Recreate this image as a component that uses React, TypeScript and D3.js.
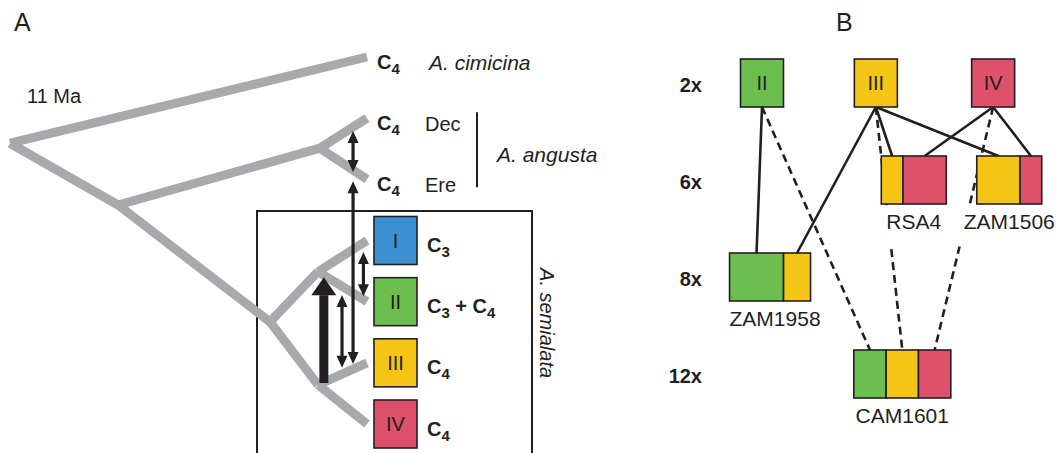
import * as d3 from "d3";

const W = 1059;
const H = 453;
const FONT = "'Liberation Sans', Arial, Helvetica, sans-serif";
const INK = "#231f20";
const BRANCH = "#a7a9ac";

// ---------- Panel A: phylogeny ----------
const TIP_IDS = ["cimicina", "Dec", "Ere", "I", "II", "III", "IV"];
const TIP_PATHWAY: string[][] = [["4"], ["4"], ["4"], ["3"], ["3", "4"], ["4"], ["4"]];
const TIP_NOTE = ["A. cimicina", "Dec", "Ere", "", "", "", ""];
const TIP_NOTE_ITALIC = [true, false, false, false, false, false, false];
const CLADES = ["I", "II", "III", "IV"];

const NODE_IDS = ["root", "angSem", "angusta", "semialata", "cladeI_II", "cladeIII_IV"];
const NODE_AGE = [11, 7.67, 1.45, 2.99, 1.51, 1.51]; // Ma
const NODE_ROW = [1.41, 2.42, 1.49, 4.33, 3.51, 5.36]; // in tip rows

const EDGE_PARENT = ["root", "root", "angSem", "angusta", "angusta", "angSem", "semialata", "cladeI_II", "cladeI_II", "semialata", "cladeIII_IV", "cladeIII_IV"];
const EDGE_CHILD = ["cimicina", "angSem", "angusta", "Dec", "Ere", "semialata", "cladeI_II", "I", "II", "cladeIII_IV", "III", "IV"];

// gene flow arrows (age where drawn, from/to in tip rows)
const FLOW_AGE = [0.43, 0.43, 0.11, 0.77, 1.33];
const FLOW_FROM = [1.21, 2.03, 3.19, 3.89, 5.33];
const FLOW_TO = [1.88, 5.02, 3.91, 5.08, 3.6];
const FLOW_MAJOR = [false, false, false, false, true];

// ---------- Panel B: polyploids ----------
const PLOIDY_LEVELS = ["2x", "6x", "8x", "12x"];
const ACCESSIONS = ["II", "III", "IV", "RSA4", "ZAM1506", "ZAM1958", "CAM1601"];
const ACC_PLOIDY = ["2x", "2x", "2x", "6x", "6x", "8x", "12x"];
const ACC_GENOMES: string[][] = [["II"], ["III"], ["IV"], ["III", "IV", "IV"], ["III", "III", "IV"], ["II", "II", "III"], ["II", "III", "IV"]];
const ACC_COLUMN = [0, 0.99, 2.01, 1.32, 2.15, 0.07, 1.22];

const LINK_FROM = ["II", "III", "III", "III", "IV", "IV", "II", "III", "IV"];
const LINK_TO = ["ZAM1958", "ZAM1958", "RSA4", "ZAM1506", "RSA4", "ZAM1506", "CAM1601", "CAM1601", "CAM1601"];
const LINK_DASHED = [false, false, false, false, false, false, true, true, true];

const cladeColor = d3.scaleOrdinal<string, string>().domain(CLADES).range(["#3c8fd1", "#6cbe4f", "#f5c515", "#df506b"]);

function PathwayLabel({ x, y, subs }: { x: number; y: number; subs: string[] }) {
  return (
    <text x={x} y={y} fontFamily={FONT} fontWeight="bold" fontSize={20} fill={INK}>
      C<tspan fontSize={15} dy={5}>{subs[0]}</tspan>
      {subs.length > 1 && (
        <>
          <tspan dy={-5}> + C</tspan>
          <tspan fontSize={15} dy={5}>{subs[1]}</tspan>
        </>
      )}
    </text>
  );
}

function arrowHead(x: number, tipY: number, dir: number, len: number, half: number) {
  const base = tipY + dir * len;
  return `M${x},${tipY}L${x - half},${base}L${x + half},${base}Z`;
}

export default function App() {
  // tree scales
  const ageX = d3.scaleLinear().domain([11, 0]).range([10, 367]);
  const rowY = d3.scaleLinear().domain([0, TIP_IDS.length - 1]).range([57, 424]);

  const pos = new Map<string, [number, number]>();
  TIP_IDS.forEach((id, i) => pos.set(id, [ageX(0), rowY(i)]));
  NODE_IDS.forEach((id, i) => pos.set(id, [ageX(NODE_AGE[i]), rowY(NODE_ROW[i])]));

  // panel B scales
  const ploidyY = d3.scalePoint<string>().domain(PLOIDY_LEVELS).range([83, 374]);
  const colX = d3.scaleLinear().domain([0, 1]).range([762, 877]);
  const boxW = d3.scaleOrdinal<string, number>().domain(PLOIDY_LEVELS).range([43, 65, 81, 97]);
  const boxH = 48;

  const acc = ACCESSIONS.map((name, i) => {
    const w = boxW(ACC_PLOIDY[i]);
    const cx = colX(ACC_COLUMN[i]);
    const top = (ploidyY(ACC_PLOIDY[i]) as number) - boxH / 2;
    const unit = w / ACC_GENOMES[i].length;
    const blocks: { g: string; x: number; w: number }[] = [];
    ACC_GENOMES[i].forEach((g, k) => {
      const last = blocks[blocks.length - 1];
      if (last && last.g === g) last.w += unit;
      else blocks.push({ g, x: cx - w / 2 + k * unit, w: unit });
    });
    return { name, cx, w, top, blocks, diploid: ACC_PLOIDY[i] === "2x" };
  });
  const accBy = new Map(acc.map((a) => [a.name, a]));

  const links = LINK_FROM.map((f, i) => {
    const p = accBy.get(f)!;
    const c = accBy.get(LINK_TO[i])!;
    const b = c.blocks.find((bl) => bl.g === f)!;
    return { x1: p.cx, y1: p.top + boxH, x2: b.x + b.w / 2, y2: c.top, dashed: LINK_DASHED[i] };
  });

  const boxTop = rowY(3) - 29.5;

  return (
    <svg width={W} height={H} style={{ position: "absolute", left: 0, top: 0, background: "#fff" }}>
      {/* Panel A */}
      <text x={14} y={31} fontFamily={FONT} fontSize={25} fill={INK}>A</text>
      <text x={27} y={103} fontFamily={FONT} fontSize={20} fill={INK}>11 Ma</text>

      {/* A. semialata frame */}
      <rect x={257} y={boxTop} width={275} height={H - boxTop + 20} fill="none" stroke={INK} strokeWidth={2} />

      {EDGE_PARENT.map((p, i) => {
        const [x1, y1] = pos.get(p)!;
        const [x2, y2] = pos.get(EDGE_CHILD[i])!;
        return <line key={i} x1={x1} y1={y1} x2={x2} y2={y2} stroke={BRANCH} strokeWidth={9} strokeLinecap="butt" />;
      })}

      {FLOW_AGE.map((a, i) => {
        const x = ageX(a);
        const y1 = rowY(FLOW_FROM[i]);
        const y2 = rowY(FLOW_TO[i]);
        const dir = y2 < y1 ? 1 : -1; // points back from the head at y2
        if (FLOW_MAJOR[i]) {
          const len = 18;
          return (
            <g key={i}>
              <rect x={x - 4.5} y={Math.min(y1, y2 + dir * len)} width={9} height={Math.abs(y1 - (y2 + dir * len))} fill={INK} />
              <path d={arrowHead(x, y2, dir, len, 12.5)} fill={INK} />
            </g>
          );
        }
        const len = 12;
        return (
          <g key={i}>
            <line x1={x} y1={y1 - dir * len + dir * 1} x2={x} y2={y2 + dir * len - dir * 1} stroke={INK} strokeWidth={3.2} />
            <path d={arrowHead(x, y2, dir, len, 5.5)} fill={INK} />
            <path d={arrowHead(x, y1, -dir, len, 5.5)} fill={INK} />
          </g>
        );
      })}

      {TIP_IDS.map((id, i) => {
        const [tx, ty] = pos.get(id)!;
        const isClade = CLADES.includes(id);
        return (
          <g key={id}>
            {isClade && (
              <g>
                <rect x={tx + 7} y={ty - boxH / 2} width={43} height={boxH} fill={cladeColor(id)} stroke={INK} strokeWidth={1.6} />
                <text x={tx + 28.5} y={ty + 7} textAnchor="middle" fontFamily={FONT} fontSize={20} fill={INK}>{id}</text>
              </g>
            )}
            <PathwayLabel x={isClade ? tx + 60 : tx + 10} y={ty + 11.5} subs={TIP_PATHWAY[i]} />
            {TIP_NOTE[i] && (
              <text x={TIP_NOTE_ITALIC[i] ? tx + 62 : tx + 58} y={ty + 13} fontFamily={FONT} fontSize={TIP_NOTE_ITALIC[i] ? 21 : 20}
                fontStyle={TIP_NOTE_ITALIC[i] ? "italic" : "normal"} fill={INK}>{TIP_NOTE[i]}</text>
            )}
          </g>
        );
      })}

      {/* A. angusta bracket */}
      <line x1={477} x2={477} y1={rowY(1) - 6} y2={rowY(2) + 8} stroke={INK} strokeWidth={2} />
      <text x={497} y={(rowY(1) + rowY(2)) / 2 + 13} fontFamily={FONT} fontSize={21} fontStyle="italic" fill={INK}>A. angusta</text>
      <text transform={`translate(540,${rowY(4.35)}) rotate(90)`} textAnchor="middle" fontFamily={FONT} fontSize={20} fontStyle="italic" fill={INK}>
        A. semialata
      </text>

      {/* Panel B */}
      <text x={836} y={31} fontFamily={FONT} fontSize={25} fill={INK}>B</text>
      {PLOIDY_LEVELS.map((p) => (
        <text key={p} x={702} y={(ploidyY(p) as number) + 9} textAnchor="end" fontFamily={FONT} fontWeight="bold" fontSize={20} fill={INK}>{p}</text>
      ))}

      {links.filter((l) => l.dashed).map((l, i) => (
        <line key={`d${i}`} x1={l.x1} y1={l.y1} x2={l.x2} y2={l.y2} stroke={INK} strokeWidth={2.6} strokeDasharray="8 5" />
      ))}
      {links.filter((l) => !l.dashed).map((l, i) => (
        <line key={`s${i}`} x1={l.x1} y1={l.y1} x2={l.x2} y2={l.y2} stroke={INK} strokeWidth={2.6} />
      ))}

      {acc.filter((a) => !a.diploid).map((a) => (
        <rect key={`bg${a.name}`} x={a.cx - a.name.length * 6.5 - 10} y={a.top + boxH + 1.5} width={a.name.length * 13 + 20} height={41} fill="#fff" />
      ))}

      {acc.map((a) => (
        <g key={a.name}>
          {a.blocks.map((b, k) => (
            <rect key={k} x={b.x} y={a.top} width={b.w} height={boxH} fill={cladeColor(b.g)} stroke={INK} strokeWidth={1.6} />
          ))}
          {a.diploid ? (
            <text x={a.cx} y={a.top + boxH / 2 + 7} textAnchor="middle" fontFamily={FONT} fontSize={20} fill={INK}>{a.name}</text>
          ) : (
            <text x={a.cx + (a.name === "ZAM1958" ? 5 : 0)} y={a.top + boxH + 25} textAnchor="middle" fontFamily={FONT} fontSize={21} fill={INK}>{a.name}</text>
          )}
        </g>
      ))}
    </svg>
  );
}
